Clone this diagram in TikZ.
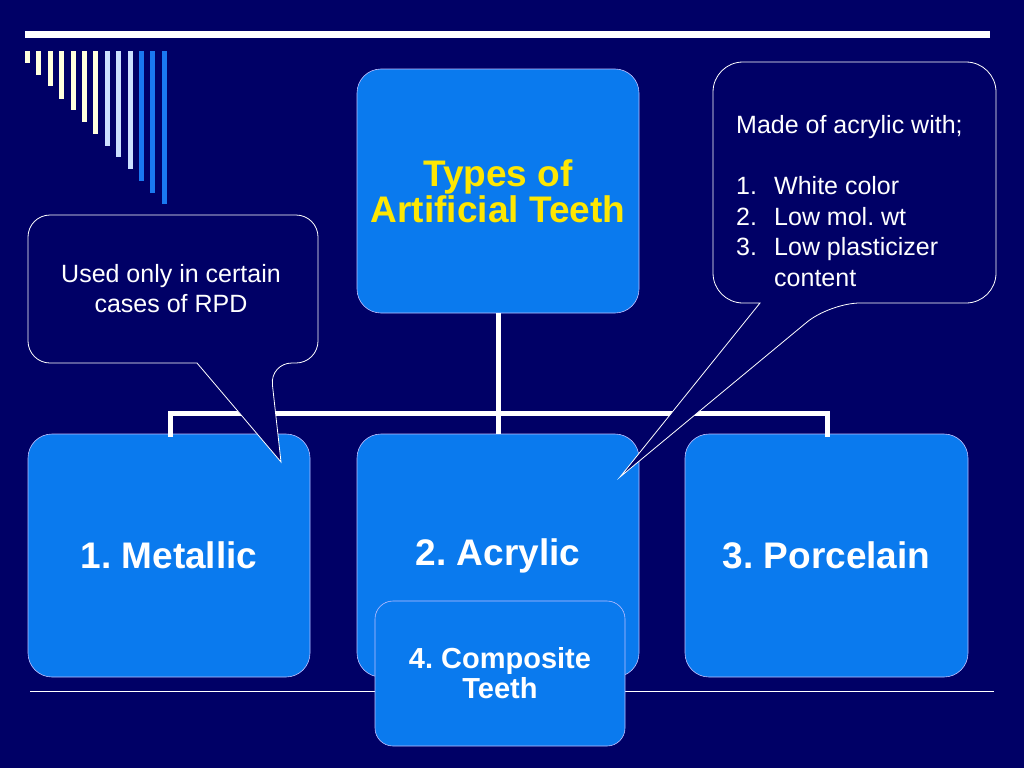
\documentclass[tikz,border=0pt]{standalone}
\usepackage{fontspec}
\setmainfont{Liberation Sans}
\frenchspacing
\begin{document}
\begin{tikzpicture}[x=1pt,y=-1pt,
  box/.style={draw=white!75!blue, line width=0.6pt, fill=boxblue, rounded corners=24pt, font=\bfseries\fontsize{37}{40}\selectfont, text=white, align=center},
  wire/.style={draw=white, line width=5pt},
  callout/.style={draw=white, line width=0.8pt, fill=navy},
  ctext/.style={text=white, font=\fontsize{25}{30.7}\selectfont, align=left, anchor=north west, inner sep=0pt}]
\definecolor{navy}{HTML}{000066}
\definecolor{boxblue}{HTML}{0A7AEE}
\definecolor{cream}{HTML}{FFFFDD}
\definecolor{lblue}{HTML}{CCE0FF}
\definecolor{mblue}{HTML}{1A78F0}
\fill[navy] (0,0) rectangle (1024,768);
\useasboundingbox (0,0) rectangle (1024,768);
\fill[white] (25,31) rectangle (990,38);
\foreach \i/\b/\c in {0/63/cream,1/75/cream,2/86/cream,3/99/cream,4/110/cream,5/122/cream,6/134/cream,7/146/lblue,8/157/lblue,9/169/lblue,10/181/mblue,11/193/mblue,12/204/mblue}
  \fill[\c] (25+11.4*\i,51) rectangle (30+11.4*\i,\b);
\draw[white, line width=0.8pt] (30,691) -- (994,691);
% boxes
\node[box, minimum width=282pt, minimum height=244pt, text=yellow!90!orange, font=\bfseries\fontsize{37}{36}\selectfont] (top) at (498,191) {Types of\\Artificial Teeth};
\node[box, minimum width=282pt, minimum height=243pt] (met) at (169,555.5) {1. Metallic};
\node[box, minimum width=282pt, minimum height=243pt] (acr) at (498,555.5) {2. Acrylic};
\node[box, minimum width=283pt, minimum height=243pt] (por) at (826.5,555.5) {3. Porcelain};
% wires
\coordinate (j) at (498,413);
\draw[wire] (top.south) -- (j);
\draw[wire, line cap=rect] (170,434) |- (827,413) -- (827,434);
\draw[wire] (j) -- (acr.north);
\node[box, rounded corners=18pt, minimum width=250pt, minimum height=145pt, font=\bfseries\fontsize{29}{30}\selectfont] (comp) at (500,673.5) {4. Composite\\Teeth};
% callouts
\draw[callout, rounded corners=22pt] (170,215) -- (318,215) -- (318,363) -- (270,363) [sharp corners] -- (281,462) -- (197,363) [rounded corners=22pt] -- (28,363) -- (28,215) -- cycle;
\node[text=white, font=\fontsize{25}{30}\selectfont, align=center] (c1) at (171,289) {Used only in certain\\cases of RPD};
\draw[callout, rounded corners=30pt] (850,62) -- (996,62) -- (996,303) -- (830,303) [sharp corners] -- (620,477) -- (760,303) [rounded corners=30pt] -- (713,303) -- (713,62) -- cycle;
\node[ctext] (c2) at (736,115) {Made of acrylic with;};
\node[ctext] (c3) at (736,176) {\makebox[38pt][l]{1.}White color\\\makebox[38pt][l]{2.}Low mol. wt\\\makebox[38pt][l]{3.}Low plasticizer\\\makebox[38pt][l]{}content};
\end{tikzpicture}
\end{document}
